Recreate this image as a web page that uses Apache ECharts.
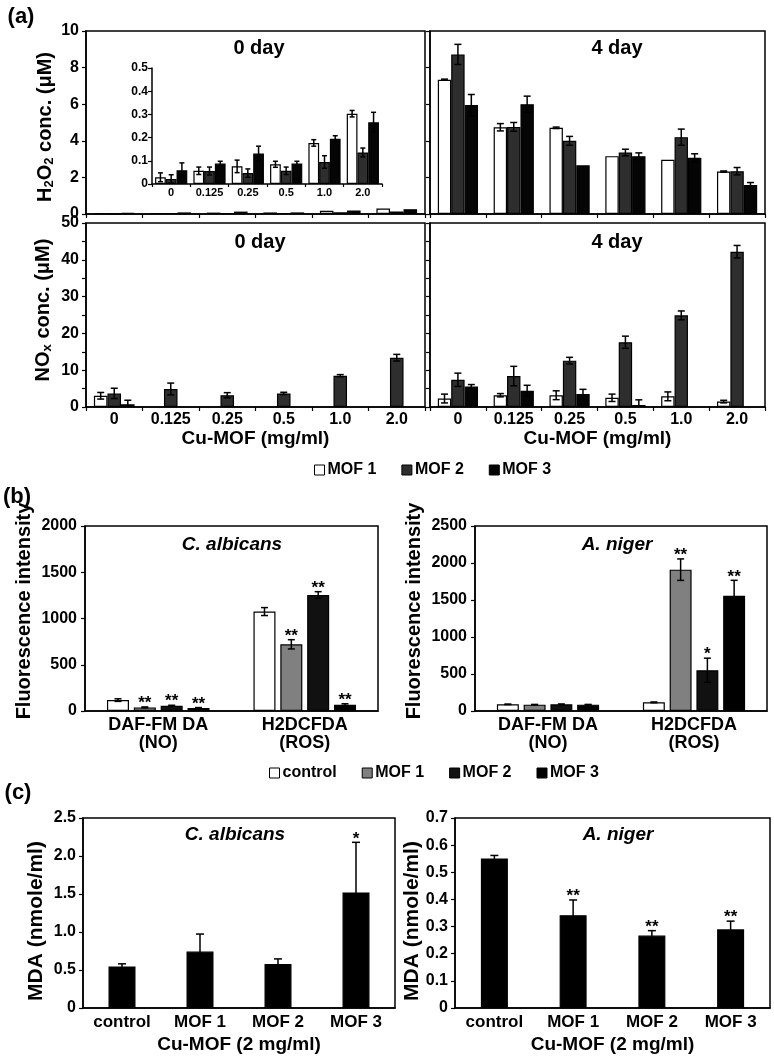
<!DOCTYPE html>
<html>
<head>
<meta charset="utf-8">
<script src="https://cdn.jsdelivr.net/npm/echarts@6/dist/echarts.min.js"></script>
<style>
  html, body { margin: 0; background: #fff; }
  #chart { width: 774px; height: 1060px; }
</style>
</head>
<body>
<div id="chart"></div>
<script>
const FONT = '"Liberation Sans", Arial, Helvetica, sans-serif';

// ---- (a) H2O2 / NOx vs Cu-MOF dose ----
const doseCats = ['0', '0.125', '0.25', '0.5', '1.0', '2.0'];
const mofNames = ['MOF 1', 'MOF 2', 'MOF 3'];
const mofColors = ['#ffffff', '#2e2e2e', '#050505'];

// rows: MOF 1, MOF 2, MOF 3 (uM)
const h2o2Day0 = [
  [0.029, 0.057, 0.076, 0.085, 0.177, 0.303],
  [0.022, 0.056, 0.047, 0.057, 0.095, 0.136],
  [0.059, 0.088, 0.131, 0.088, 0.195, 0.266]
];
const h2o2Day0Err = [
  [0.019, 0.016, 0.027, 0.013, 0.014, 0.014],
  [0.018, 0.017, 0.018, 0.016, 0.027, 0.019],
  [0.032, 0.010, 0.032, 0.010, 0.013, 0.043]
];
const h2o2Day4 = [
  [7.34, 4.74, 4.71, 3.16, 2.96, 2.32],
  [8.72, 4.76, 4.00, 3.36, 4.20, 2.34],
  [5.95, 6.00, 2.66, 3.16, 3.07, 1.59]
];
const h2o2Day4Err = [
  [0.03, 0.20, 0.04, 0, 0, 0.03],
  [0.55, 0.24, 0.24, 0.18, 0.44, 0.20],
  [0.58, 0.44, 0, 0.18, 0.22, 0.13]
];
const noxDay0 = [
  [3.05, null, null, null, null, null],
  [3.7, 4.9, 3.2, 3.7, 8.5, 13.4],
  [0.74, null, null, null, null, null]
];
const noxDay0Err = [
  [0.9, 0, 0, 0, 0, 0],
  [1.4, 1.6, 0.7, 0.3, 0.3, 0.9],
  [1.1, 0, 0, 0, 0, 0]
];
const noxDay4 = [
  [2.3, 3.2, 3.2, 2.5, 2.9, 1.47],
  [7.4, 8.4, 12.6, 17.6, 24.9, 42.2],
  [5.6, 4.4, 3.5, 0.55, null, null]
];
const noxDay4Err = [
  [1.2, 0.45, 1.2, 1.0, 1.2, 0.35],
  [1.8, 2.65, 0.9, 1.65, 1.2, 1.7],
  [0.5, 1.5, 1.3, 1.4, 0, 0]
];

// ---- (b) fluorescence ----
const probeCats = ['DAF-FM DA\n(NO)', 'H2DCFDA\n(ROS)'];
const treatNames = ['control', 'MOF 1', 'MOF 2', 'MOF 3'];
const treatColors = ['#ffffff', '#808080', '#111111', '#000000'];
const albicansFluor = [[118, 1075], [39, 721], [57, 1254], [32, 68]];
const albicansFluorErr = [[14, 43], [5, 50], [5, 36], [5, 10]];
const albicansFluorSig = [['', ''], ['**', '**'], ['**', '**'], ['**', '**']];
const nigerFluor = [[90, 117], [86, 1910], [90, 551], [86, 1558]];
const nigerFluorErr = [[3, 5], [3, 145], [5, 163], [3, 208]];
const nigerFluorSig = [['', ''], ['', '**'], ['', '*'], ['', '**']];

// ---- (c) MDA ----
const mdaCats = ['control', 'MOF 1', 'MOF 2', 'MOF 3'];
const albicansMda = [0.546, 0.743, 0.58, 1.52];
const albicansMdaErr = [0.035, 0.23, 0.066, 0.66];
const albicansMdaSig = ['', '', '', '*'];
const nigerMda = [0.551, 0.342, 0.267, 0.29];
const nigerMdaErr = [0.011, 0.056, 0.018, 0.03];
const nigerMdaSig = ['', '**', '**', '**'];

const tickFont = { color: '#000', fontWeight: 'bold', fontFamily: FONT };
const blackLine = { color: '#000', width: 1.5 };
const oneDec = v => (v === 0 ? '0' : v.toFixed(1));
const plain = v => String(v);

function xCat(grid, data, opt) {
  opt = opt || {};
  return {
    type: 'category', gridIndex: grid, data: data,
    axisLine: { lineStyle: blackLine },
    axisTick: { show: opt.ticks !== false, length: opt.tickLen || 4, lineStyle: { color: '#000', width: 1.2 } },
    axisLabel: Object.assign({ show: !!opt.labels, interval: 0, fontSize: opt.fontSize || 16, margin: opt.margin || 5, lineHeight: opt.lineHeight }, tickFont),
    name: opt.name || '', nameLocation: 'middle', nameGap: opt.nameGap || 20,
    nameTextStyle: Object.assign({ fontSize: 19 }, tickFont)
  };
}

function yVal(grid, max, interval, opt) {
  opt = opt || {};
  return {
    type: 'value', gridIndex: grid, min: 0, max: max, interval: interval,
    axisLine: { show: true, lineStyle: blackLine },
    axisTick: { show: true, length: 4, lineStyle: { color: '#000', width: 1.2 } },
    minorTick: { show: !!opt.minor, splitNumber: 2, length: 4, lineStyle: { color: '#000', width: 1.2 } },
    splitLine: { show: false },
    axisLabel: Object.assign({ show: !!opt.labels, fontSize: opt.fontSize || 16, margin: opt.margin || 7, formatter: opt.fmt || plain }, tickFont)
  };
}

function bar(axis, name, data, color, gaps) {
  return Object.assign({
    type: 'bar', name: name, data: data, xAxisIndex: axis, yAxisIndex: axis,
    itemStyle: { color: color, borderColor: '#000', borderWidth: 1.2 },
    silent: true
  }, gaps);
}

function errorSeries(axis, values, errs, stars, slot, nSlots, catGap, gap, cap, starSize) {
  return {
    type: 'custom', xAxisIndex: axis, yAxisIndex: axis, z: 5, silent: true,
    encode: { x: 0, y: 1 },
    data: values.map((v, i) => [i, v == null ? 0 : v, errs ? (errs[i] || 0) : 0]),
    renderItem: function (params, api) {
      const i = api.value(0), v = api.value(1), e = api.value(2);
      const star = stars ? stars[params.dataIndex] : '';
      if (!e && !star) return null;
      let cx = api.coord([i, 0])[0];
      if (nSlots > 1) {
        const band = api.size([1, 0])[0];
        const used = band * (1 - catGap);
        const bw = used / (nSlots + (nSlots - 1) * gap);
        cx += -used / 2 + slot * bw * (1 + gap) + bw / 2;
      }
      const yTop = api.coord([i, v + e])[1];
      const lo = v - e;
      const yBot = api.coord([i, Math.max(lo, 0)])[1];
      const ln = { stroke: '#000', lineWidth: 1.5 };
      const children = [];
      if (e) {
        children.push({ type: 'line', shape: { x1: cx, y1: yTop, x2: cx, y2: yBot }, style: ln });
        children.push({ type: 'line', shape: { x1: cx - cap, y1: yTop, x2: cx + cap, y2: yTop }, style: ln });
        if (lo > 0) children.push({ type: 'line', shape: { x1: cx - cap, y1: yBot, x2: cx + cap, y2: yBot }, style: ln });
      }
      if (star) {
        children.push({
          type: 'text',
          style: { text: star, x: cx, y: yTop + 5, align: 'center', verticalAlign: 'bottom', fontSize: starSize, fontWeight: 'bold', fontFamily: FONT, fill: '#000' }
        });
      }
      return { type: 'group', children: children };
    }
  };
}

function txt(text, x, y, size, extra) {
  return {
    type: 'text', x: x, y: y, silent: true,
    style: Object.assign({ text: text, fontSize: size, fontWeight: 'bold', fontFamily: FONT, fill: '#000', align: 'center', verticalAlign: 'middle' }, extra)
  };
}

function vtitle(text, x, y, size, rich) {
  const el = txt(text, x, y, size, rich ? { rich: rich } : {});
  el.rotation = Math.PI / 2;
  return el;
}

const subRich = {
  a: { fontSize: 20, fontWeight: 'bold', fontFamily: FONT, fill: '#000', lineHeight: 22 },
  s: { fontSize: 13, fontWeight: 'bold', fontFamily: FONT, fill: '#000', lineHeight: 10, verticalAlign: 'bottom' }
};

const gridBox = { show: true, borderColor: '#000', borderWidth: 1.5, backgroundColor: 'transparent' };
const grids = [
  Object.assign({ left: 86, top: 31, width: 339, height: 183 }, gridBox),   // 0 H2O2 0 day
  Object.assign({ left: 430, top: 31, width: 335, height: 183 }, gridBox),  // 1 H2O2 4 day
  { left: 152, top: 68, width: 230, height: 116 },                          // 2 inset
  Object.assign({ left: 86, top: 223, width: 339, height: 184 }, gridBox),  // 3 NOx 0 day
  Object.assign({ left: 430, top: 223, width: 335, height: 184 }, gridBox), // 4 NOx 4 day
  Object.assign({ left: 85, top: 526, width: 293, height: 185 }, gridBox),  // 5 (b) C. albicans
  Object.assign({ left: 475, top: 526, width: 292, height: 185 }, gridBox), // 6 (b) A. niger
  Object.assign({ left: 83, top: 818, width: 312, height: 190 }, gridBox),  // 7 (c) C. albicans
  Object.assign({ left: 455, top: 818, width: 315, height: 190 }, gridBox)  // 8 (c) A. niger
];

const xAxes = [
  xCat(0, doseCats),
  xCat(1, doseCats),
  xCat(2, doseCats, { labels: true, fontSize: 11, margin: 3, tickLen: 3 }),
  xCat(3, doseCats, { labels: true, name: 'Cu-MOF (mg/ml)', nameGap: 21 }),
  xCat(4, doseCats, { labels: true, name: 'Cu-MOF (mg/ml)', nameGap: 21 }),
  xCat(5, probeCats, { labels: true, ticks: false, fontSize: 18, lineHeight: 18, margin: 5 }),
  xCat(6, probeCats, { labels: true, ticks: false, fontSize: 18, lineHeight: 18, margin: 5 }),
  xCat(7, mdaCats, { labels: true, ticks: false, fontSize: 17, margin: 6, name: 'Cu-MOF (2 mg/ml)', nameGap: 27 }),
  xCat(8, mdaCats, { labels: true, ticks: false, fontSize: 17, margin: 6, name: 'Cu-MOF (2 mg/ml)', nameGap: 27 })
];

const yAxes = [
  yVal(0, 10, 2, { labels: true }),
  yVal(1, 10, 2),
  yVal(2, 0.5, 0.1, { labels: true, fontSize: 12, margin: 4, fmt: oneDec }),
  yVal(3, 50, 10, { labels: true, minor: true }),
  yVal(4, 50, 10, { minor: true }),
  yVal(5, 2000, 500, { labels: true, margin: 8 }),
  yVal(6, 2500, 500, { labels: true, margin: 8 }),
  yVal(7, 2.5, 0.5, { labels: true, fmt: oneDec }),
  yVal(8, 0.7, 0.1, { labels: true, fmt: oneDec })
];

const series = [];
const doseGaps = { barCategoryGap: '28%', barGap: '0%' };
const insetGaps = { barCategoryGap: '16%', barGap: '0%' };
const doseSets = [
  [0, h2o2Day0, null, doseGaps, 0.28],
  [1, h2o2Day4, h2o2Day4Err, doseGaps, 0.28],
  [2, h2o2Day0, h2o2Day0Err, insetGaps, 0.16],
  [3, noxDay0, noxDay0Err, doseGaps, 0.28],
  [4, noxDay4, noxDay4Err, doseGaps, 0.28]
];
doseSets.forEach(function (set) {
  const axis = set[0];
  for (let k = 0; k < 3; k++) {
    series.push(bar(axis, mofNames[k], set[1][k], mofColors[k], set[3]));
  }
  if (set[2]) {
    for (let k = 0; k < 3; k++) {
      series.push(errorSeries(axis, set[1][k], set[2][k], null, k, 3, set[4], 0, axis === 2 ? 2.5 : 3.5, 16));
    }
  }
});

const fluorGaps = { barCategoryGap: '30%', barGap: '22%' };
[[5, albicansFluor, albicansFluorErr, albicansFluorSig], [6, nigerFluor, nigerFluorErr, nigerFluorSig]].forEach(function (set) {
  for (let k = 0; k < 4; k++) {
    series.push(bar(set[0], treatNames[k], set[1][k], treatColors[k], fluorGaps));
  }
  for (let k = 0; k < 4; k++) {
    series.push(errorSeries(set[0], set[1][k], set[2][k], set[3][k], k, 4, 0.30, 0.22, 3.5, 17));
  }
});

[[7, albicansMda, albicansMdaErr, albicansMdaSig], [8, nigerMda, nigerMdaErr, nigerMdaSig]].forEach(function (set) {
  series.push(bar(set[0], 'MDA', set[1], '#000', { barWidth: 27 }));
  series.push(errorSeries(set[0], set[1], set[2], set[3], 0, 1, 0, 0, 4, 17));
});

const legendBase = {
  orient: 'horizontal', icon: 'rect', itemWidth: 10, itemHeight: 10, itemGap: 25,
  selectedMode: false,
  itemStyle: { borderColor: '#000', borderWidth: 1 },
  textStyle: { color: '#000', fontSize: 16, fontWeight: 'bold', fontFamily: FONT, padding: [0, 0, 0, -2] }
};

const option = {
  animation: false,
  backgroundColor: '#fff',
  grid: grids,
  xAxis: xAxes,
  yAxis: yAxes,
  legend: [
    Object.assign({}, legendBase, {
      left: 309, top: 457,
      data: mofNames.map((n, k) => ({ name: n, itemStyle: { color: mofColors[k] } }))
    }),
    Object.assign({}, legendBase, {
      left: 264, top: 760,
      data: treatNames.map((n, k) => ({ name: n, itemStyle: { color: treatColors[k] } }))
    })
  ],
  series: series,
  graphic: {
    elements: [
      txt('(a)', 21, 17, 22),
      txt('(b)', 17, 497, 22),
      txt('(c)', 18, 793, 22),
      txt('0 day', 259, 48, 20),
      txt('4 day', 617, 48, 20),
      txt('0 day', 260, 242, 20),
      txt('4 day', 617, 242, 20),
      txt('C. albicans', 232, 545, 19, { fontStyle: 'italic' }),
      txt('A. niger', 617, 545, 19, { fontStyle: 'italic' }),
      txt('C. albicans', 235, 835, 19, { fontStyle: 'italic' }),
      txt('A. niger', 618, 835, 19, { fontStyle: 'italic' }),
      vtitle('{a|H}{s|2}{a|O}{s|2}{a| conc. (μM)}', 45, 127, 20, subRich),
      vtitle('{a|NO}{s|x}{a| conc. (μM)}', 43, 310, 20, subRich),
      vtitle('Fluorescence intensity', 24, 611, 20),
      vtitle('Fluorescence intensity', 414, 611, 20),
      vtitle('MDA (nmole/ml)', 36, 921, 21),
      vtitle('MDA (nmole/ml)', 412, 921, 21)
    ]
  }
};

const myChart = echarts.init(document.getElementById('chart'), null, { renderer: 'canvas' });
myChart.setOption(option);
</script>
</body>
</html>
